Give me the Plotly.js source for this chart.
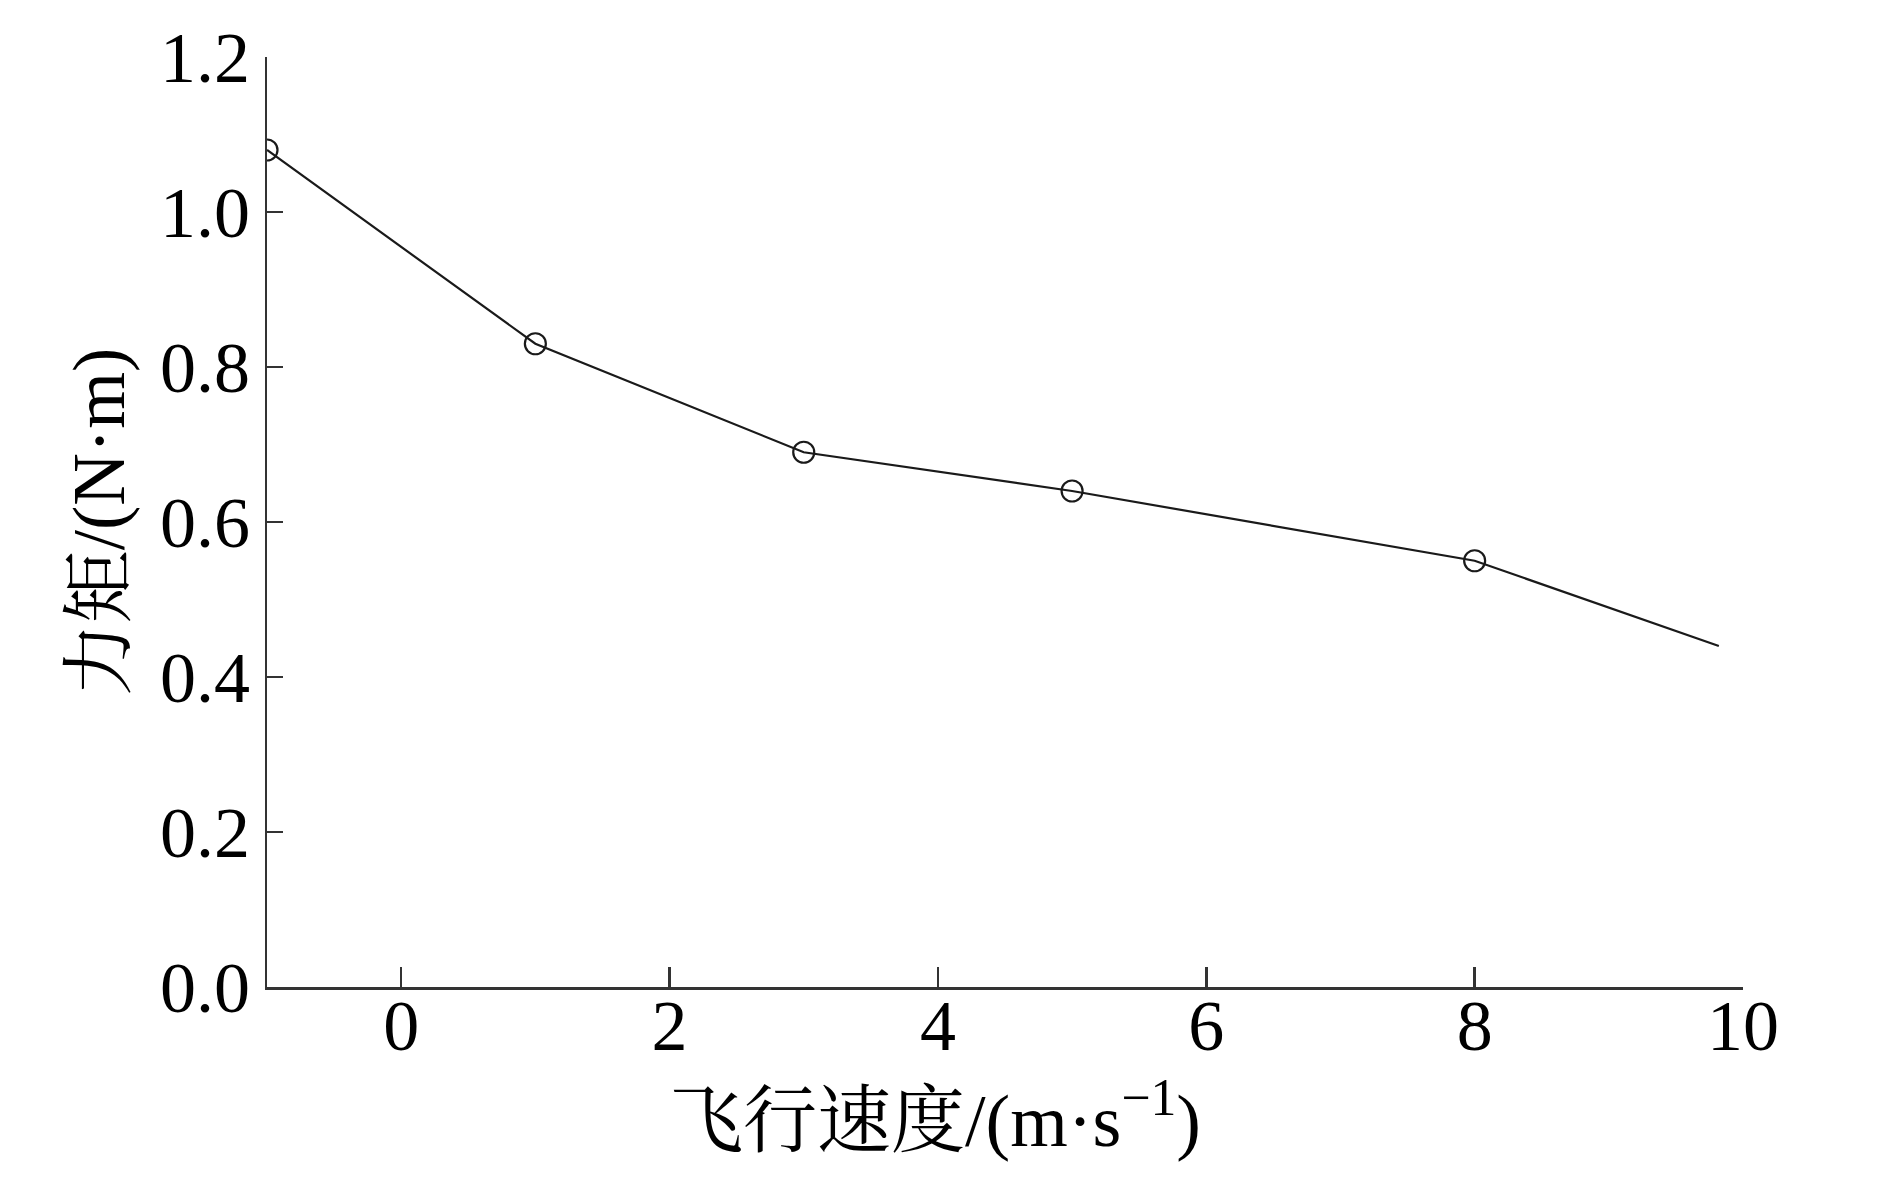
<!DOCTYPE html>
<html>
<head>
<meta charset="utf-8">
<script src="https://cdn.plot.ly/plotly-3.0.1.min.js"></script>
<style>
  html, body { margin: 0; padding: 0; background: #fff; }
  #chart { width: 1901px; height: 1183px; }
</style>
</head>
<body>
<div id="chart"></div>
<script>
// Data
const speed = [-1, 1, 3, 5, 8, 9.82];          // 飞行速度 (m/s)
const torque = [1.08, 0.83, 0.69, 0.64, 0.55, 0.44]; // 力矩 (N·m)
const markerFlags = [true, true, true, true, true, false];

const xTickVals = [0, 2, 4, 6, 8, 10];
const yTickVals = [0.0, 0.2, 0.4, 0.6, 0.8, 1.0, 1.2];
const yTickText = ['0.0', '0.2', '0.4', '0.6', '0.8', '1.0', '1.2'];
const xTitle = '飞行速度/(m·s<sup>−1</sup>)';
const yTitle = '力矩/(N·m)';

const FONT = '"Liberation Serif", "Times New Roman", "Noto Serif CJK SC", "Noto Sans CJK SC", serif';

const traces = [
  {
    x: speed,
    y: torque,
    type: 'scatter',
    mode: 'lines',
    line: { color: '#1a1a1a', width: 2.2 },
    hoverinfo: 'skip',
    showlegend: false
  },
  {
    x: speed.filter((_, i) => markerFlags[i]),
    y: torque.filter((_, i) => markerFlags[i]),
    type: 'scatter',
    mode: 'markers',
    marker: { symbol: 'circle-open', size: 21, color: '#1a1a1a', line: { color: '#1a1a1a', width: 2.2 } },
    showlegend: false
  }
];

const layout = {
  width: 1901,
  height: 1183,
  margin: { l: 267, r: 158, t: 57, b: 196 },
  paper_bgcolor: '#fff',
  plot_bgcolor: '#fff',
  font: { family: FONT, color: '#000', size: 72 },
  showlegend: false,
  xaxis: {
    range: [-1, 10],
    tickvals: xTickVals,
    ticks: 'inside',
    ticklen: 20,
    tickwidth: 2.5,
    tickcolor: '#333',
    showline: true,
    linecolor: '#333',
    linewidth: 2.5,
    showgrid: false,
    zeroline: false,
    mirror: false,
    tickfont: { family: FONT, size: 72, color: '#000' },
    ticklabelstandoff: -26
  },
  yaxis: {
    range: [0, 1.2],
    tickvals: yTickVals,
    ticktext: yTickText,
    ticks: 'inside',
    ticklen: 16,
    tickwidth: 2.5,
    tickcolor: '#333',
    showline: true,
    linecolor: '#333',
    linewidth: 2.5,
    showgrid: false,
    zeroline: false,
    mirror: false,
    tickfont: { family: FONT, size: 72, color: '#000' },
    ticklabelstandoff: 0,
    title: { text: yTitle, font: { family: FONT, size: 73, color: '#000' }, standoff: 12 }
  },
  annotations: [
    {
      text: xTitle,
      xref: 'paper', yref: 'paper',
      x: 0.4526, y: -0.138,
      xanchor: 'center', yanchor: 'middle',
      showarrow: false,
      font: { family: FONT, size: 74, color: '#000' }
    }
  ]
};

Plotly.newPlot('chart', traces, layout, { displayModeBar: false, staticPlot: true });
</script>
</body>
</html>
